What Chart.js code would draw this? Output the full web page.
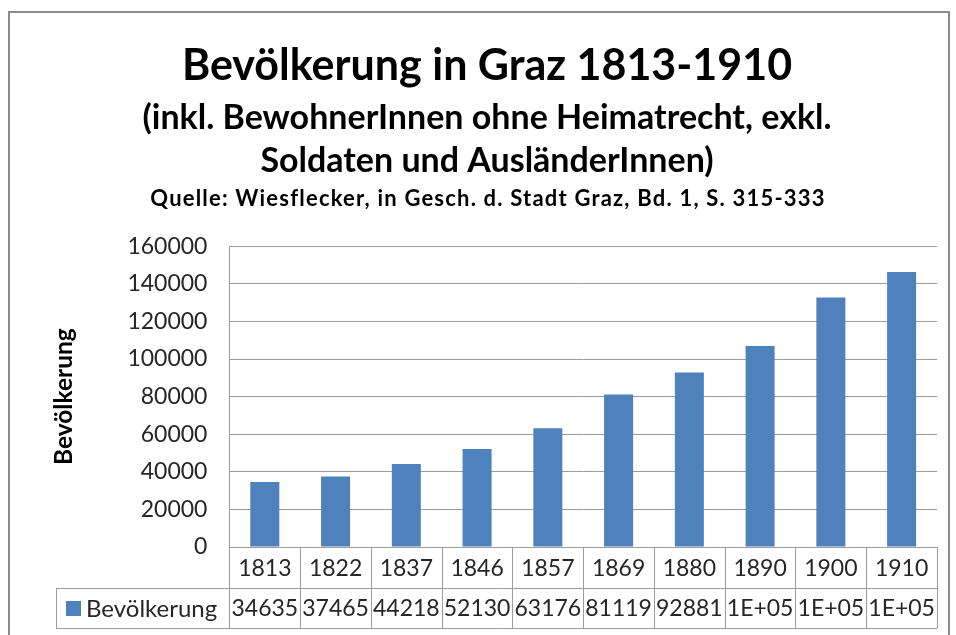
<!DOCTYPE html>
<html>
<head>
<meta charset="utf-8">
<script src="https://cdn.jsdelivr.net/npm/chart.js@4"></script>
<style>
    body { margin: 0; background: #ffffff; }
    #wrap { position: relative; width: 956px; height: 635px; overflow: hidden; }
    #frame { position: absolute; left: 8px; top: 11px; width: 938px; height: 640px; border: 2px solid #8c8c8c; }
    canvas { position: absolute; left: 0; top: 0; }
</style>
</head>
<body>
<div id="wrap">
    <div id="frame"></div>
    <canvas id="myChart" width="956" height="635"></canvas>
</div>
<script>
const years = ['1813', '1822', '1837', '1846', '1857', '1869', '1880', '1890', '1900', '1910'];
const population = [34635, 37465, 44218, 52130, 63176, 81119, 92881, 107000, 132700, 146300];
const yTicks = [0, 20000, 40000, 60000, 80000, 100000, 120000, 140000, 160000];
const seriesName = 'Bevölkerung';

const fontName = 'Lato, "Open Sans", sans-serif';
const barColor = '#4f81bd';
const lineColor = '#9c9c9c';

// Excel "General" format squeezed into a narrow column
function cellText(v) {
    if (v >= 100000) {
        return v.toExponential(0).toUpperCase().replace('E+', 'E+0');
    }
    return String(v);
}

// the data table under the plot, plus the source line under the title
const tablePlugin = {
    id: 'dataTable',
    afterDraw(chart) {
        const ctx = chart.ctx;
        const area = chart.chartArea;
        const xs = chart.scales.x;
        const half = (xs.getPixelForValue(1) - xs.getPixelForValue(0)) / 2;
        const row1 = area.bottom + 41;
        const row2 = area.bottom + 81;
        const legendLeft = 56;

        ctx.save();
        ctx.strokeStyle = lineColor;
        ctx.lineWidth = 1;
        ctx.beginPath();
        for (let i = 0; i <= years.length; i++) {
            const px = Math.round(xs.getPixelForValue(i) - half) + 0.5;
            ctx.moveTo(px, area.bottom);
            ctx.lineTo(px, row2);
        }
        ctx.moveTo(legendLeft + 0.5, row1);
        ctx.lineTo(legendLeft + 0.5, row2);
        ctx.moveTo(legendLeft, Math.round(row1) + 0.5);
        ctx.lineTo(area.right, Math.round(row1) + 0.5);
        ctx.moveTo(legendLeft, Math.round(row2) + 0.5);
        ctx.lineTo(area.right, Math.round(row2) + 0.5);
        ctx.stroke();

        ctx.fillStyle = '#262626';
        ctx.font = '23px ' + fontName;
        ctx.textAlign = 'center';
        ctx.textBaseline = 'middle';
        years.forEach((y, i) => {
            const px = xs.getPixelForValue(i);
            ctx.fillText(y, px, (area.bottom + row1) / 2 + 1);
            ctx.fillText(cellText(population[i]), px, (row1 + row2) / 2 + 1);
        });

        ctx.fillStyle = barColor;
        ctx.fillRect(66, (row1 + row2) / 2 - 7, 15, 15);
        ctx.fillStyle = '#262626';
        ctx.textAlign = 'left';
        ctx.font = '24px ' + fontName;
        ctx.fillText(seriesName, 86, (row1 + row2) / 2 + 1);

        ctx.fillStyle = '#000000';
        ctx.font = 'bold 22px ' + fontName;
        ctx.letterSpacing = '1.2px';
        ctx.textAlign = 'center';
        ctx.fillText('Quelle: Wiesflecker, in Gesch. d. Stadt Graz, Bd. 1, S. 315-333', 488, 199);
        ctx.restore();
    }
};

const ctx = document.getElementById('myChart');

new Chart(ctx, {
    type: 'bar',
    data: {
        labels: years,
        datasets: [
            {
                label: seriesName,
                data: population,
                backgroundColor: barColor,
                categoryPercentage: 1,
                barPercentage: 0.41,
            },
        ]
    },
    options: {
        responsive: false,
        animation: false,
        layout: {
            padding: { left: 37, right: 19, top: 0, bottom: 88 }
        },
        plugins: {
            legend: { display: false },
            tooltip: { enabled: false },
            title: {
                display: true,
                text: 'Bevölkerung in Graz 1813-1910',
                color: '#000000',
                font: { family: fontName, size: 43, weight: 'bold', lineHeight: 1.2 },
                padding: { top: 40, bottom: 5 }
            },
            subtitle: {
                display: true,
                text: ['(inkl. BewohnerInnen ohne Heimatrecht, exkl.', 'Soldaten und AusländerInnen)'],
                color: '#000000',
                font: { family: fontName, size: 34, weight: 'bold', lineHeight: 1.26 },
                padding: { top: 0, bottom: 64 }
            }
        },
        scales: {
            x: {
                display: false,
            },
            y: {
                min: 0,
                max: 160000,
                afterBuildTicks: scale => {
                    scale.ticks = yTicks.map(v => ({ value: v }));
                },
                border: { color: lineColor, width: 1 },
                grid: { color: lineColor, lineWidth: 1, drawTicks: false },
                ticks: {
                    color: '#262626',
                    padding: 22,
                    font: { family: fontName, size: 23 },
                    callback: value => String(value)
                },
                title: {
                    display: true,
                    text: 'Bevölkerung',
                    color: '#000000',
                    font: { family: fontName, size: 24.5, weight: 'bold' },
                    padding: { top: 12, bottom: 27 }
                }
            }
        }
    },
    plugins: [tablePlugin]
});
</script>
</body>
</html>
